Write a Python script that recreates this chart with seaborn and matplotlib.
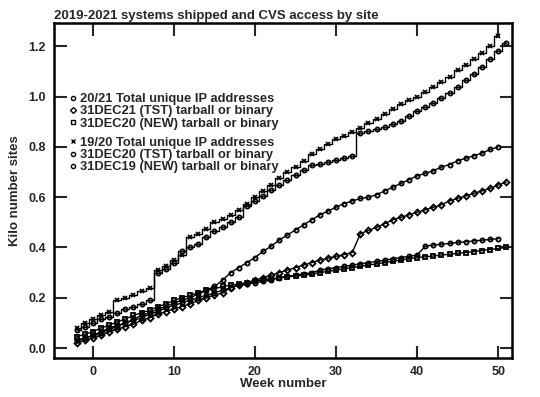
import matplotlib
matplotlib.use("Agg")
import matplotlib.pyplot as plt
import seaborn as sns
import pandas as pd
from matplotlib.lines import Line2D

# week axes: 19/20 season runs to week 50, 20/21 season to week 51
weeks_1920 = list(range(-2, 51))
weeks_2021 = list(range(-2, 52))

total_1920 = [0.08, 0.10, 0.115, 0.13, 0.145, 0.19, 0.20, 0.21, 0.225, 0.24,
              0.31, 0.325, 0.35, 0.37, 0.44, 0.455, 0.475, 0.50, 0.515, 0.53,
              0.55, 0.575, 0.60, 0.625, 0.65, 0.675, 0.70, 0.72, 0.745, 0.77,
              0.79, 0.81, 0.83, 0.845, 0.86, 0.875, 0.895, 0.91, 0.93, 0.95,
              0.97, 0.985, 1.00, 1.02, 1.04, 1.06, 1.08, 1.105, 1.125, 1.15,
              1.175, 1.20, 1.24]
total_2021 = [0.07, 0.085, 0.10, 0.115, 0.125, 0.14, 0.155, 0.165, 0.175, 0.19,
              0.30, 0.315, 0.34, 0.385, 0.40, 0.415, 0.44, 0.465, 0.48, 0.50,
              0.52, 0.565, 0.585, 0.605, 0.63, 0.65, 0.67, 0.69, 0.71, 0.73,
              0.733, 0.74, 0.748, 0.756, 0.764, 0.855, 0.862, 0.87, 0.88, 0.89,
              0.905, 0.925, 0.945, 0.96, 0.975, 0.995, 1.015, 1.04, 1.065, 1.09,
              1.12, 1.15, 1.18, 1.215]
tst_2021 = [0.02, 0.03, 0.04, 0.05, 0.065, 0.075, 0.085, 0.095, 0.11, 0.12,
            0.135, 0.145, 0.155, 0.165, 0.175, 0.19, 0.20, 0.21, 0.22, 0.24,
            0.25, 0.26, 0.27, 0.28, 0.29, 0.30, 0.31, 0.32, 0.33, 0.34,
            0.35, 0.357, 0.365, 0.372, 0.38, 0.455, 0.468, 0.48, 0.495, 0.51,
            0.52, 0.53, 0.54, 0.55, 0.56, 0.57, 0.585, 0.595, 0.605, 0.615,
            0.625, 0.635, 0.648, 0.66]
tst_1920 = [0.03, 0.04, 0.05, 0.065, 0.08, 0.09, 0.10, 0.115, 0.13, 0.14,
            0.155, 0.165, 0.18, 0.19, 0.20, 0.215, 0.23, 0.245, 0.27, 0.30,
            0.32, 0.34, 0.36, 0.385, 0.405, 0.43, 0.45, 0.47, 0.49, 0.51,
            0.53, 0.545, 0.56, 0.575, 0.585, 0.595, 0.60, 0.61, 0.625, 0.64,
            0.655, 0.67, 0.685, 0.695, 0.705, 0.72, 0.73, 0.745, 0.755, 0.765,
            0.775, 0.79, 0.80]
new_1920 = [0.03, 0.04, 0.05, 0.06, 0.075, 0.085, 0.10, 0.11, 0.12, 0.135,
            0.145, 0.16, 0.17, 0.18, 0.19, 0.20, 0.21, 0.22, 0.23, 0.24,
            0.25, 0.255, 0.26, 0.265, 0.27, 0.28, 0.285, 0.29, 0.295, 0.30,
            0.31, 0.315, 0.32, 0.325, 0.33, 0.335, 0.34, 0.345, 0.35, 0.355,
            0.36, 0.365, 0.37, 0.405, 0.41, 0.413, 0.416, 0.42, 0.423, 0.426,
            0.429, 0.432, 0.435]
new_2021 = [0.045, 0.055, 0.065, 0.08, 0.09, 0.105, 0.115, 0.13, 0.14, 0.15,
            0.165, 0.175, 0.19, 0.20, 0.21, 0.22, 0.23, 0.235, 0.245, 0.25,
            0.255, 0.26, 0.265, 0.27, 0.275, 0.28, 0.283, 0.287, 0.29, 0.295,
            0.30, 0.305, 0.31, 0.315, 0.32, 0.325, 0.33, 0.335, 0.34, 0.345,
            0.35, 0.355, 0.36, 0.363, 0.366, 0.37, 0.373, 0.377, 0.38, 0.384,
            0.388, 0.392, 0.396, 0.40]

labels_2021 = ["20/21 Total unique IP addresses",
               "31DEC21 (TST) tarball or binary",
               "31DEC20 (NEW) tarball or binary"]
labels_1920 = ["19/20 Total unique IP addresses",
               "31DEC20 (TST) tarball or binary",
               "31DEC19 (NEW) tarball or binary"]

sns.set_theme(style="ticks")
plt.rcParams["font.family"] = ["Liberation Sans", "DejaVu Sans"]
plt.rcParams["font.weight"] = "bold"

fig = plt.figure(figsize=(5.4, 3.97), dpi=100)
ax = fig.add_axes([0.1, 0.098, 0.848, 0.844])

series = [
    (weeks_2021, total_2021, "o", "steps-mid"),
    (weeks_2021, tst_2021, "D", "default"),
    (weeks_2021, new_2021, "s", "default"),
    (weeks_1920, total_1920, "x", "steps-mid"),
    (weeks_1920, tst_1920, "o", "default"),
    (weeks_1920, new_1920, "o", "default"),
]
for wk, vals, mk, ds in series:
    df = pd.DataFrame({"week": wk, "sites": vals})
    sns.lineplot(data=df, x="week", y="sites", ax=ax, color="black",
                 linewidth=1.0, marker=mk, markersize=3,
                 markerfacecolor="none" if mk != "x" else "black",
                 markeredgecolor="black", markeredgewidth=1.3,
                 drawstyle=ds, estimator=None, legend=False)

ax.set_xlim(-4.8, 51.7)
ax.set_ylim(-0.04, 1.293)
ax.set_xticks([0, 10, 20, 30, 40, 50])
ax.set_yticks([0.0, 0.2, 0.4, 0.6, 0.8, 1.0, 1.2])
ax.tick_params(direction="in", length=9, width=1.5, top=True, right=True,
               labelsize=9, pad=6)
for s in ax.spines.values():
    s.set_linewidth(1.8)
    s.set_color("black")
ax.set_xlabel("Week number", fontsize=9.5, fontweight="bold", labelpad=0)
ax.set_ylabel("Kilo number sites", fontsize=9.5, fontweight="bold", labelpad=5)
ax.set_title("2019-2021 systems shipped and CVS access by site", loc="left",
             fontsize=9.5, fontweight="bold", pad=3)

def handles(markers):
    return [Line2D([], [], linestyle="none", marker=m, markersize=3,
                   markerfacecolor="none" if m != "x" else "black",
                   markeredgecolor="black", markeredgewidth=1.0)
            for m in markers]

leg_kw = dict(frameon=False, fontsize=9.3, handlelength=0.5, handletextpad=0.3,
              labelspacing=0.0, borderpad=0, borderaxespad=0, loc="upper left")
leg1 = ax.legend(handles(["o", "D", "s"]), labels_2021,
                 bbox_to_anchor=(0.035, 0.79), **leg_kw)
ax.add_artist(leg1)
ax.legend(handles(["x", "o", "o"]), labels_1920,
          bbox_to_anchor=(0.035, 0.66), **leg_kw)

fig.savefig("out.png", dpi=100)
